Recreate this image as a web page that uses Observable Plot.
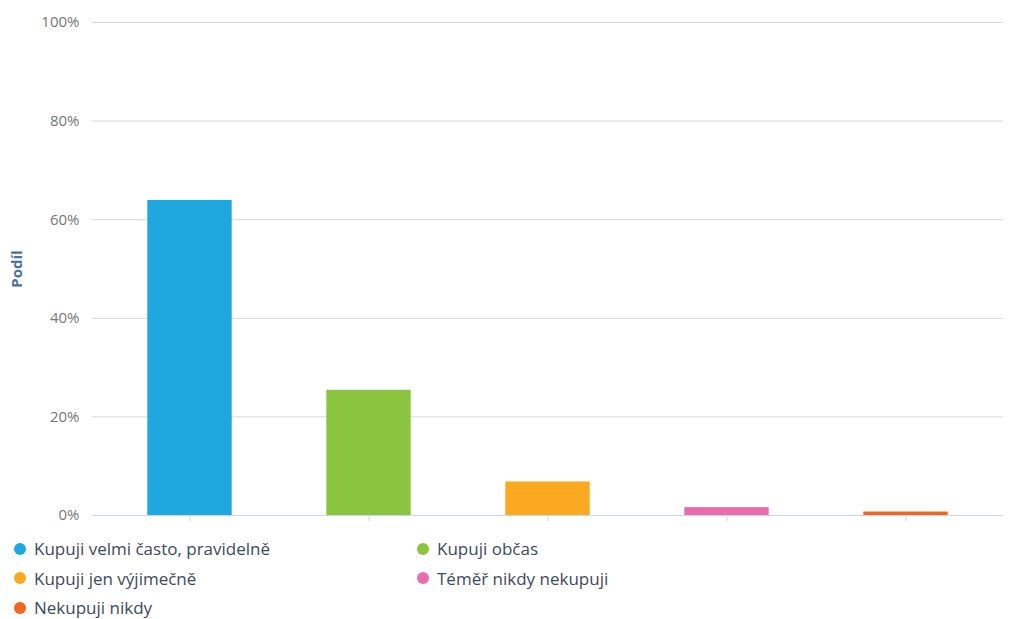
<!DOCTYPE html>
<html>
<head>
<meta charset="utf-8">
<script src="https://cdn.jsdelivr.net/npm/d3@7"></script>
<script src="https://cdn.jsdelivr.net/npm/@observablehq/plot@0.6"></script>
<style>
  body { margin: 0; background: #fff; font-family: "Open Sans", "DejaVu Sans", sans-serif; }
  #legend { display: grid; grid-template-columns: 403px 400px; padding: 4px 0 0 14px; }
  .item { display: flex; align-items: center; height: 29.5px; font-size: 17px; color: #3d4a5c; }
  .dot { width: 12px; height: 12px; border-radius: 50%; margin-right: 8px; flex: none; }
</style>
</head>
<body>
<div id="chart"></div>
<div id="legend"></div>
<script>
const categories = ["Kupuji velmi často, pravidelně", "Kupuji občas", "Kupuji jen výjimečně", "Téměř nikdy nekupuji", "Nekupuji nikdy"];
const values = [63.9, 25.4, 6.8, 1.6, 0.7];
const colors = ["#1fa8e0", "#8bc540", "#fca922", "#e96cad", "#f26522"];
const yTicks = [0, 20, 40, 60, 80, 100];

const data = categories.map((c, i) => ({category: c, value: values[i], color: colors[i]}));

const chart = Plot.plot({
  width: 1020,
  height: 530,
  marginLeft: 92,
  marginRight: 17,
  marginTop: 22,
  marginBottom: 15,
  style: {fontFamily: "'Open Sans', 'DejaVu Sans', sans-serif", background: "transparent"},
  x: {domain: categories, padding: 0, insetLeft: 7.4, insetRight: 7.6, axis: null},
  y: {domain: [0, 100], ticks: yTicks, axis: null},
  marks: [
    Plot.ruleY(yTicks.filter(d => d > 0), {stroke: "#d8d8d8", strokeWidth: 1}),
    Plot.text(yTicks, {y: d => d, frameAnchor: "left", dx: -13, text: d => d + "%", textAnchor: "end", fill: "#777", fontSize: 15}),
    Plot.barY(data, {x: "category", y: "value", fill: "color", insetLeft: 47.3, insetRight: 47.3}),
    Plot.ruleY([0], {stroke: "#ccd6eb", strokeWidth: 1}),
    Plot.ruleX(categories, {x: d => d, y1: 0, y2: -1.25, stroke: "#ccd6eb", strokeWidth: 1}),
    Plot.text(["Podíl"], {frameAnchor: "left", dx: -75, rotate: -90, textAnchor: "middle", fill: "#4a72a0", fontWeight: "bold", fontSize: 15})
  ]
});
document.getElementById("chart").appendChild(chart);

const legend = document.getElementById("legend");
categories.forEach((c, i) => {
  const it = document.createElement("div");
  it.className = "item";
  it.innerHTML = `<span class="dot" style="background:${colors[i]}"></span><span>${c}</span>`;
  legend.appendChild(it);
});
</script>
</body>
</html>
